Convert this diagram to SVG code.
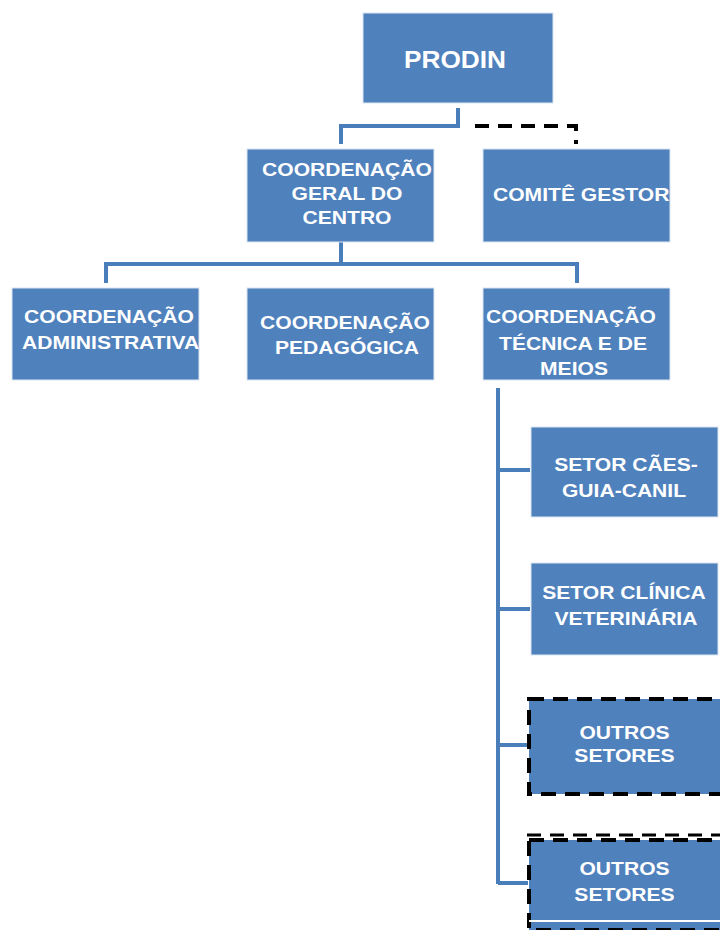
<svg xmlns="http://www.w3.org/2000/svg" width="720" height="930" viewBox="0 0 720 930">
<style>
.box{fill:#4f81bd;stroke:#dce6f2;stroke-width:1}
.t{font-family:"Liberation Sans",Arial,sans-serif;font-weight:bold;fill:#fff;font-size:18.5px;text-anchor:middle}
.ts{font-family:"Liberation Sans",Arial,sans-serif;font-weight:bold;fill:#fff;font-size:18.5px;text-anchor:start}
.big{font-size:23px}
.ln{fill:none;stroke:#4a7ebb;stroke-width:4}
.dash{fill:none;stroke:#000;stroke-width:4;stroke-dasharray:14 9}
.dbox{fill:#4f81bd;stroke:#000;stroke-width:4;stroke-dasharray:15 9}
</style>
<defs>
<clipPath id="cComite"><rect x="483" y="149" width="187" height="93"/></clipPath>
<clipPath id="cAdmin"><rect x="12" y="288" width="187" height="92"/></clipPath>
</defs>
<g id="connectors">
<path class="ln" d="M458,108 V126 H341 V144"/>
<path class="dash" d="M475,126 H576 V144"/>
<path class="ln" d="M341,242 V264"/>
<path class="ln" d="M106,283 V264 H577 V283"/>
<path class="ln" d="M498,388 V884"/>
<path class="ln" d="M498,470 H530"/>
<path class="ln" d="M498,609 H530"/>
<path class="ln" d="M498,745 H528"/>
<path class="ln" d="M498,883 H528"/>
</g>
<g id="prodin">
<rect class="box" x="363" y="13" width="190" height="90"/>
<text class="t big" transform="translate(455,68) scale(1.14,1)">PRODIN</text>
</g>
<g id="coord-geral">
<rect class="box" x="247" y="149" width="187" height="93"/>
<text class="t" transform="translate(347,176) scale(1.14,1)">COORDENAÇÃO</text>
<text class="t" transform="translate(347,200) scale(1.14,1)">GERAL DO</text>
<text class="t" transform="translate(347,224) scale(1.14,1)">CENTRO</text>
</g>
<g id="comite">
<rect class="box" x="483" y="149" width="187" height="93"/>
<g clip-path="url(#cComite)">
<text class="ts" transform="translate(493,201) scale(1.14,1)">COMITÊ GESTOR</text>
</g>
</g>
<g id="coord-admin">
<rect class="box" x="12" y="288" width="187" height="92"/>
<text class="t" transform="translate(109,323) scale(1.14,1)">COORDENAÇÃO</text>
<g clip-path="url(#cAdmin)">
<text class="ts" transform="translate(22,349) scale(1.14,1)">ADMINISTRATIVA</text>
</g>
</g>
<g id="coord-pedagogica">
<rect class="box" x="247" y="288" width="187" height="92"/>
<text class="t" transform="translate(345,329) scale(1.14,1)">COORDENAÇÃO</text>
<text class="t" transform="translate(347,354) scale(1.14,1)">PEDAGÓGICA</text>
</g>
<g id="coord-tecnica">
<rect class="box" x="483" y="288" width="187" height="92"/>
<text class="t" transform="translate(571,323) scale(1.14,1)">COORDENAÇÃO</text>
<text class="t" transform="translate(573,350) scale(1.14,1)">TÉCNICA E DE</text>
<text class="t" transform="translate(574,375) scale(1.14,1)">MEIOS</text>
</g>
<g id="setor-caes">
<rect class="box" x="531" y="427" width="187" height="90"/>
<text class="t" transform="translate(626,471) scale(1.14,1)">SETOR CÃES-</text>
<text class="t" transform="translate(624,497) scale(1.14,1)">GUIA-CANIL</text>
</g>
<g id="setor-clinica">
<rect class="box" x="531" y="563" width="187" height="92"/>
<text class="t" transform="translate(624,599) scale(1.14,1)">SETOR CLÍNICA</text>
<text class="t" transform="translate(626,625) scale(1.14,1)">VETERINÁRIA</text>
</g>
<g id="outros-1">
<rect class="dbox" x="529" y="699" width="194" height="95"/>
<text class="t" transform="translate(624.5,739) scale(1.14,1)">OUTROS</text>
<text class="t" transform="translate(624.5,762) scale(1.14,1)">SETORES</text>
</g>
<g id="outros-2">
<path d="M527,835 H720" stroke="#000" stroke-width="3" stroke-dasharray="14 9" fill="none"/>
<rect class="dbox" x="529" y="840" width="194" height="90"/>
<path d="M529,921 H720" stroke="#fff" stroke-width="2"/>
<text class="t" transform="translate(624.5,875) scale(1.14,1)">OUTROS</text>
<text class="t" transform="translate(624.5,901) scale(1.14,1)">SETORES</text>
</g>
</svg>
